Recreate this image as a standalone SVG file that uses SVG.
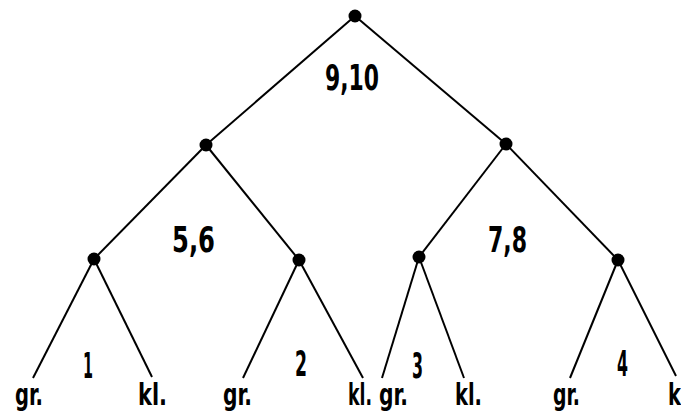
<svg xmlns="http://www.w3.org/2000/svg" width="681" height="414" viewBox="0 0 681 414">
<style>
.e{stroke:#000;stroke-width:2;fill:none}
.d{fill:#000}
.t{font-family:"DejaVu Sans Condensed","DejaVu Sans","Liberation Sans",sans-serif;font-weight:bold;fill:#000}
.n{font-size:35px}
.l{font-size:30px}
</style>
<rect width="681" height="414" fill="#fff"/>
<g id="connectors">
<line class="e" x1="355" y1="16" x2="206" y2="145"/>
<line class="e" x1="355" y1="16" x2="506" y2="144"/>
<line class="e" x1="206" y1="145" x2="94" y2="259"/>
<line class="e" x1="206" y1="145" x2="299" y2="260"/>
<line class="e" x1="506" y1="144" x2="419" y2="257"/>
<line class="e" x1="506" y1="144" x2="618" y2="260"/>
<line class="e" x1="94" y1="259" x2="33" y2="378"/>
<line class="e" x1="94" y1="259" x2="152" y2="377"/>
<line class="e" x1="299" y1="260" x2="243" y2="378"/>
<line class="e" x1="299" y1="260" x2="363" y2="378"/>
<line class="e" x1="419" y1="257" x2="382" y2="378"/>
<line class="e" x1="419" y1="257" x2="464" y2="378"/>
<line class="e" x1="618" y1="260" x2="570" y2="378"/>
<line class="e" x1="618" y1="260" x2="676" y2="376"/>
</g>
<g id="root"><circle class="d" cx="355" cy="16" r="6.5"/><text class="t n" x="325" y="90" textLength="54" lengthAdjust="spacingAndGlyphs">9,10</text></g>
<g id="n56"><circle class="d" cx="206" cy="145" r="6.5"/><text class="t n" x="172" y="252" textLength="43" lengthAdjust="spacingAndGlyphs">5,6</text></g>
<g id="n78"><circle class="d" cx="506" cy="144" r="6.5"/><text class="t n" x="488" y="252" textLength="39" lengthAdjust="spacingAndGlyphs">7,8</text></g>
<g id="n1"><circle class="d" cx="94" cy="259" r="6.5"/><text class="t n" x="83" y="378" textLength="10" lengthAdjust="spacingAndGlyphs">1</text></g>
<g id="n2"><circle class="d" cx="299" cy="260" r="6.5"/><text class="t n" x="295" y="376" textLength="12" lengthAdjust="spacingAndGlyphs">2</text></g>
<g id="n3"><circle class="d" cx="419" cy="257" r="6.5"/><text class="t n" x="412" y="378" textLength="11" lengthAdjust="spacingAndGlyphs">3</text></g>
<g id="n4"><circle class="d" cx="618" cy="260" r="6.5"/><text class="t n" x="617" y="376" textLength="11" lengthAdjust="spacingAndGlyphs">4</text></g>
<g id="leaves">
<text class="t l" x="15" y="405" textLength="28" lengthAdjust="spacingAndGlyphs">gr.</text>
<text class="t l" x="138" y="405" textLength="29" lengthAdjust="spacingAndGlyphs">kl.</text>
<text class="t l" x="223" y="405" textLength="29" lengthAdjust="spacingAndGlyphs">gr.</text>
<text class="t l" x="348" y="405" textLength="24" lengthAdjust="spacingAndGlyphs">kl.</text>
<text class="t l" x="379" y="405" textLength="29" lengthAdjust="spacingAndGlyphs">gr.</text>
<text class="t l" x="455" y="405" textLength="27" lengthAdjust="spacingAndGlyphs">kl.</text>
<text class="t l" x="553" y="405" textLength="27" lengthAdjust="spacingAndGlyphs">gr.</text>
<text class="t l" x="668" y="405" textLength="27" lengthAdjust="spacingAndGlyphs">kl.</text>
</g>
</svg>
